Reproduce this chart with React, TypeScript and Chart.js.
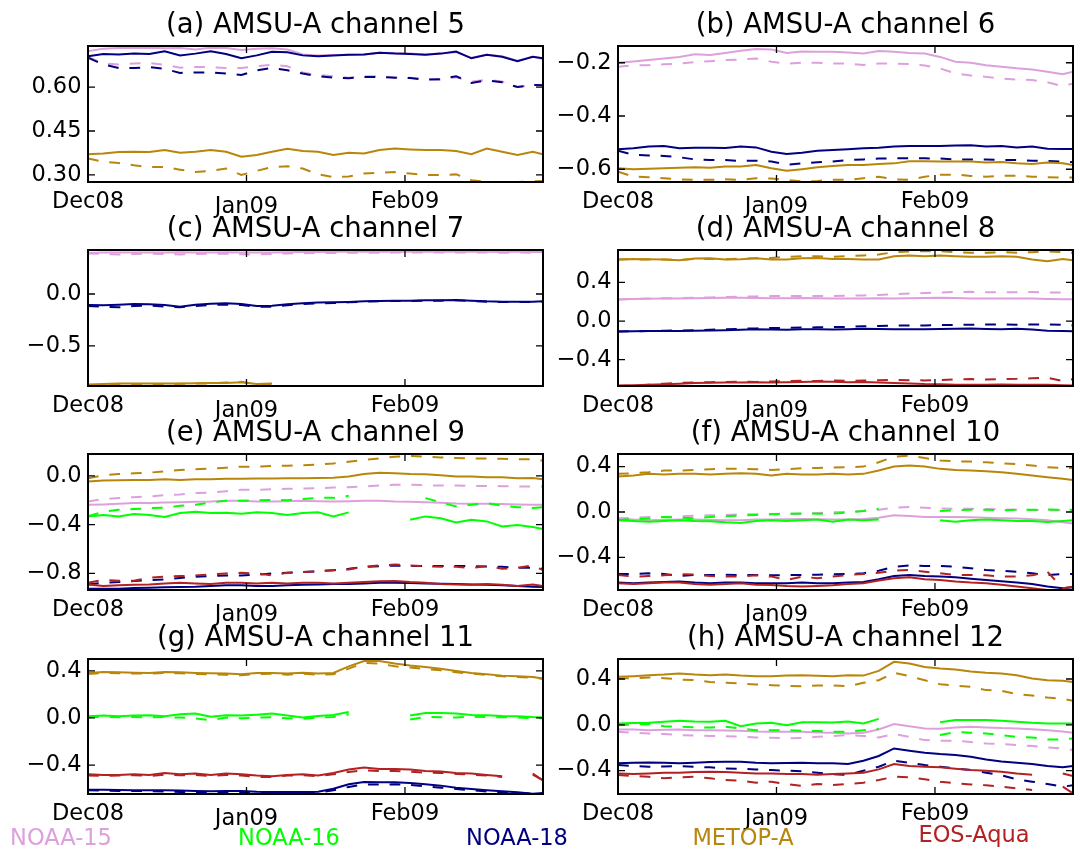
import React, { useEffect, useRef } from 'react';
import { Chart, registerables } from 'chart.js';

Chart.register(...registerables);

const W = 1075;
const H = 852;
const FONT = "'DejaVu Sans', 'Liberation Sans', sans-serif";

// day index from 1 Dec 2008 (0) to 28 Feb 2009 (89)
const DAYS = [0, 3, 6, 9, 12, 15, 18, 21, 24, 27, 30, 33, 36, 39, 42, 45, 48, 51, 54, 57, 60, 63, 66, 69, 72, 75, 78, 81, 84, 87, 89];
const X_TICK_DAYS = [0, 31, 62];
const X_TICK_LABELS = ['Dec08', 'Jan09', 'Feb09'];

const SATELLITES = ['NOAA-15', 'NOAA-16', 'NOAA-18', 'METOP-A', 'EOS-Aqua'];
const SAT_COLORS = ['#DDA0DD', '#00FF00', '#000080', '#B8860B', '#B22222'];

// (a) channel 5
const A_N15 = [0.722, 0.731, 0.733, 0.733, 0.734, 0.732, 0.733, 0.728, 0.734, 0.733, 0.726, 0.731, 0.732, 0.728, 0.711, 0.708, 0.709, 0.71, 0.711, 0.717, 0.716, 0.714, 0.711, 0.714, 0.719, 0.70, 0.71, 0.705, 0.69, 0.703, 0.696];
const A_N15_D = [0.703, 0.68, 0.677, 0.68, 0.682, 0.676, 0.666, 0.668, 0.668, 0.665, 0.665, 0.671, 0.676, 0.671, 0.65, 0.641, 0.637, 0.632, 0.637, 0.637, 0.633, 0.632, 0.627, 0.625, 0.633, 0.619, 0.625, 0.619, 0.60, 0.607, 0.608];
const A_N18 = [0.705, 0.713, 0.711, 0.714, 0.713, 0.722, 0.708, 0.714, 0.722, 0.713, 0.698, 0.708, 0.72, 0.719, 0.708, 0.705, 0.708, 0.71, 0.711, 0.717, 0.714, 0.713, 0.71, 0.714, 0.721, 0.698, 0.71, 0.703, 0.688, 0.703, 0.698];
const A_N18_D = [0.70, 0.677, 0.665, 0.665, 0.668, 0.662, 0.648, 0.65, 0.65, 0.646, 0.641, 0.657, 0.665, 0.657, 0.646, 0.637, 0.632, 0.63, 0.634, 0.634, 0.632, 0.631, 0.625, 0.627, 0.637, 0.614, 0.623, 0.616, 0.60, 0.607, 0.606];
const A_MET = [0.371, 0.373, 0.378, 0.379, 0.378, 0.385, 0.376, 0.379, 0.385, 0.379, 0.362, 0.368, 0.379, 0.389, 0.382, 0.379, 0.368, 0.376, 0.373, 0.385, 0.39, 0.387, 0.385, 0.385, 0.382, 0.371, 0.39, 0.379, 0.368, 0.379, 0.371];
const A_MET_D = [0.356, 0.345, 0.341, 0.333, 0.327, 0.327, 0.318, 0.31, 0.314, 0.322, 0.30, 0.314, 0.327, 0.33, 0.322, 0.302, 0.293, 0.295, 0.305, 0.307, 0.31, 0.305, 0.30, 0.30, 0.302, 0.282, 0.276, 0.273, 0.276, 0.278, 0.279];

// (b) channel 6
const B_N15 = [-0.2, -0.195, -0.19, -0.184, -0.178, -0.168, -0.171, -0.163, -0.155, -0.148, -0.15, -0.163, -0.158, -0.159, -0.159, -0.161, -0.165, -0.156, -0.159, -0.163, -0.165, -0.178, -0.196, -0.2, -0.209, -0.215, -0.221, -0.225, -0.234, -0.243, -0.234];
const B_N15_D = [-0.215, -0.21, -0.209, -0.206, -0.203, -0.198, -0.194, -0.19, -0.188, -0.184, -0.196, -0.203, -0.2, -0.2, -0.203, -0.203, -0.208, -0.203, -0.203, -0.205, -0.21, -0.221, -0.24, -0.248, -0.253, -0.259, -0.263, -0.265, -0.273, -0.288, -0.278];
const B_N18 = [-0.525, -0.521, -0.515, -0.513, -0.521, -0.519, -0.519, -0.52, -0.515, -0.518, -0.534, -0.543, -0.538, -0.531, -0.528, -0.525, -0.521, -0.519, -0.515, -0.513, -0.513, -0.513, -0.511, -0.51, -0.515, -0.513, -0.518, -0.515, -0.523, -0.524, -0.524];
const B_N18_D = [-0.53, -0.546, -0.548, -0.55, -0.555, -0.563, -0.565, -0.565, -0.569, -0.568, -0.571, -0.583, -0.578, -0.574, -0.571, -0.565, -0.563, -0.56, -0.559, -0.559, -0.559, -0.56, -0.563, -0.563, -0.563, -0.565, -0.565, -0.568, -0.569, -0.571, -0.573];
const B_MET = [-0.596, -0.6, -0.598, -0.596, -0.594, -0.593, -0.594, -0.59, -0.59, -0.584, -0.596, -0.606, -0.6, -0.593, -0.588, -0.584, -0.584, -0.58, -0.578, -0.57, -0.57, -0.571, -0.571, -0.571, -0.575, -0.573, -0.578, -0.58, -0.575, -0.578, -0.584];
const B_MET_D = [-0.609, -0.628, -0.63, -0.634, -0.638, -0.64, -0.64, -0.638, -0.64, -0.634, -0.635, -0.64, -0.646, -0.644, -0.64, -0.64, -0.634, -0.628, -0.638, -0.64, -0.628, -0.621, -0.62, -0.625, -0.628, -0.624, -0.625, -0.628, -0.63, -0.631, -0.631];

// (c) channel 7
const C_N15 = [0.395, 0.398, 0.40, 0.40, 0.398, 0.40, 0.402, 0.40, 0.40, 0.402, 0.40, 0.398, 0.40, 0.402, 0.404, 0.404, 0.405, 0.405, 0.406, 0.406, 0.405, 0.406, 0.405, 0.406, 0.406, 0.405, 0.405, 0.404, 0.405, 0.404, 0.404];
const C_N15_D = [0.39, 0.385, 0.38, 0.384, 0.388, 0.383, 0.38, 0.385, 0.388, 0.386, 0.382, 0.38, 0.385, 0.39, 0.392, 0.394, 0.395, 0.396, 0.397, 0.397, 0.398, 0.398, 0.398, 0.398, 0.399, 0.398, 0.398, 0.397, 0.398, 0.397, 0.397];
const C_N18 = [-0.106, -0.109, -0.103, -0.096, -0.099, -0.106, -0.122, -0.103, -0.093, -0.09, -0.096, -0.115, -0.112, -0.099, -0.09, -0.083, -0.08, -0.077, -0.071, -0.067, -0.064, -0.064, -0.061, -0.061, -0.058, -0.064, -0.071, -0.074, -0.074, -0.074, -0.071];
const C_N18_D = [-0.115, -0.122, -0.128, -0.115, -0.112, -0.122, -0.128, -0.115, -0.106, -0.103, -0.106, -0.122, -0.122, -0.109, -0.096, -0.09, -0.087, -0.08, -0.074, -0.071, -0.067, -0.067, -0.064, -0.064, -0.061, -0.067, -0.074, -0.077, -0.077, -0.077, -0.074];
const C_MET = [-0.87, -0.865, -0.86, -0.862, -0.86, -0.862, -0.86, -0.858, -0.856, -0.855, -0.848, -0.865, -0.862, null, null, null, null, null, null, null, null, null, null, null, null, null, null, null, null, null, null];
const C_MET_D = [-0.88, -0.875, -0.87, -0.868, -0.865, -0.866, -0.864, -0.862, -0.86, -0.852, -0.845, -0.87, -0.865, null, null, null, null, null, null, null, null, null, null, null, null, null, null, null, null, null, null];

// (d) channel 8
const D_N15 = [0.224, 0.228, 0.23, 0.232, 0.234, 0.236, 0.238, 0.24, 0.24, 0.238, 0.236, 0.236, 0.238, 0.236, 0.234, 0.232, 0.234, 0.236, 0.234, 0.236, 0.238, 0.24, 0.238, 0.234, 0.232, 0.232, 0.234, 0.232, 0.228, 0.226, 0.226];
const D_N15_D = [0.224, 0.228, 0.232, 0.236, 0.238, 0.24, 0.244, 0.248, 0.252, 0.255, 0.258, 0.26, 0.258, 0.258, 0.26, 0.262, 0.265, 0.27, 0.278, 0.284, 0.29, 0.296, 0.3, 0.302, 0.298, 0.296, 0.298, 0.3, 0.296, 0.294, 0.294];
const D_N18 = [-0.108, -0.106, -0.104, -0.104, -0.102, -0.1, -0.098, -0.095, -0.09, -0.085, -0.088, -0.09, -0.086, -0.084, -0.088, -0.085, -0.08, -0.082, -0.084, -0.086, -0.085, -0.082, -0.08, -0.078, -0.082, -0.085, -0.08, -0.088, -0.1, -0.104, -0.106];
const D_N18_D = [-0.108, -0.106, -0.102, -0.1, -0.098, -0.094, -0.09, -0.086, -0.08, -0.076, -0.072, -0.07, -0.068, -0.065, -0.062, -0.06, -0.055, -0.05, -0.048, -0.045, -0.045, -0.042, -0.04, -0.038, -0.036, -0.036, -0.038, -0.036, -0.034, -0.038, -0.045];
const D_MET = [0.636, 0.643, 0.639, 0.636, 0.629, 0.646, 0.65, 0.636, 0.639, 0.65, 0.636, 0.636, 0.65, 0.653, 0.643, 0.643, 0.636, 0.636, 0.671, 0.678, 0.671, 0.678, 0.671, 0.664, 0.664, 0.671, 0.664, 0.636, 0.618, 0.643, 0.629];
const D_MET_D = [0.636, 0.639, 0.636, 0.636, 0.632, 0.643, 0.643, 0.639, 0.646, 0.65, 0.653, 0.664, 0.671, 0.671, 0.664, 0.671, 0.678, 0.688, 0.713, 0.72, 0.723, 0.723, 0.713, 0.706, 0.706, 0.713, 0.706, 0.713, 0.72, 0.713, 0.706];
const D_AQ = [-0.667, -0.665, -0.66, -0.655, -0.648, -0.64, -0.638, -0.636, -0.635, -0.632, -0.636, -0.632, -0.63, -0.625, -0.628, -0.632, -0.63, -0.636, -0.64, -0.645, -0.652, -0.655, -0.658, -0.66, -0.658, -0.656, -0.658, -0.66, -0.66, -0.664, -0.667];
const D_AQ_D = [-0.672, -0.668, -0.658, -0.648, -0.64, -0.635, -0.632, -0.63, -0.628, -0.63, -0.625, -0.622, -0.618, -0.62, -0.615, -0.618, -0.615, -0.612, -0.61, -0.612, -0.614, -0.61, -0.605, -0.6, -0.604, -0.6, -0.598, -0.592, -0.588, -0.62, -0.6];

// (e) channel 9
const E_N15 = [-0.237, -0.234, -0.229, -0.223, -0.223, -0.218, -0.215, -0.212, -0.21, -0.204, -0.204, -0.21, -0.21, -0.207, -0.204, -0.207, -0.21, -0.207, -0.204, -0.204, -0.21, -0.212, -0.215, -0.22, -0.226, -0.229, -0.229, -0.231, -0.234, -0.237, -0.237];
const E_N15_D = [-0.21, -0.19, -0.182, -0.174, -0.169, -0.158, -0.152, -0.141, -0.136, -0.125, -0.114, -0.114, -0.109, -0.106, -0.103, -0.101, -0.095, -0.093, -0.087, -0.079, -0.073, -0.073, -0.076, -0.079, -0.079, -0.082, -0.082, -0.084, -0.087, -0.087, -0.087];
const E_N16 = [-0.332, -0.321, -0.332, -0.313, -0.321, -0.337, -0.305, -0.294, -0.305, -0.302, -0.31, -0.299, -0.305, -0.321, -0.305, -0.299, -0.332, -0.299, null, null, null, -0.36, -0.332, -0.348, -0.381, -0.359, -0.373, -0.414, -0.403, -0.419, -0.435];
const E_N16_D = [-0.332, -0.294, -0.278, -0.272, -0.264, -0.261, -0.245, -0.237, -0.218, -0.204, -0.204, -0.201, -0.196, -0.199, -0.19, -0.18, -0.18, -0.163, null, null, null, null, -0.182, -0.218, -0.25, -0.237, -0.223, -0.245, -0.256, -0.264, -0.256];
const E_N18 = [-0.925, -0.925, -0.925, -0.92, -0.917, -0.914, -0.912, -0.909, -0.903, -0.898, -0.898, -0.903, -0.903, -0.898, -0.892, -0.89, -0.887, -0.887, -0.882, -0.876, -0.876, -0.879, -0.882, -0.884, -0.887, -0.89, -0.892, -0.898, -0.903, -0.909, -0.912];
const E_N18_D = [-0.89, -0.876, -0.871, -0.863, -0.854, -0.849, -0.838, -0.827, -0.822, -0.816, -0.816, -0.811, -0.8, -0.795, -0.789, -0.784, -0.773, -0.762, -0.746, -0.74, -0.735, -0.74, -0.74, -0.74, -0.74, -0.74, -0.743, -0.746, -0.754, -0.754, -0.762];
const E_MET = [-0.046, -0.038, -0.035, -0.033, -0.033, -0.027, -0.033, -0.027, -0.027, -0.024, -0.024, -0.022, -0.022, -0.019, -0.019, -0.016, -0.014, -0.005, 0.016, 0.027, 0.022, 0.016, 0.014, 0.005, -0.005, -0.005, -0.011, -0.011, -0.019, -0.016, -0.027];
const E_MET_D = [-0.019, 0.005, 0.016, 0.022, 0.027, 0.038, 0.049, 0.054, 0.06, 0.068, 0.076, 0.076, 0.082, 0.084, 0.087, 0.093, 0.103, 0.117, 0.131, 0.144, 0.158, 0.163, 0.158, 0.152, 0.147, 0.144, 0.144, 0.141, 0.136, 0.136, 0.125];
const E_AQ = [-0.89, -0.903, -0.898, -0.892, -0.89, -0.882, -0.876, -0.882, -0.887, -0.876, -0.876, -0.882, -0.876, -0.882, -0.876, -0.876, -0.882, -0.876, -0.871, -0.865, -0.863, -0.871, -0.876, -0.887, -0.89, -0.892, -0.887, -0.892, -0.903, -0.89, -0.903];
const E_AQ_D = [-0.876, -0.854, -0.86, -0.86, -0.835, -0.827, -0.822, -0.816, -0.808, -0.8, -0.795, -0.8, -0.816, -0.795, -0.789, -0.781, -0.773, -0.767, -0.746, -0.735, -0.727, -0.735, -0.74, -0.746, -0.746, -0.754, -0.74, -0.762, -0.754, -0.735, -0.773];

// (f) channel 10
const F_N15 = [-0.058, -0.067, -0.073, -0.07, -0.067, -0.067, -0.07, -0.073, -0.073, -0.067, -0.067, -0.064, -0.061, -0.064, -0.067, -0.067, -0.061, -0.05, -0.029, -0.035, -0.044, -0.044, -0.044, -0.047, -0.05, -0.055, -0.058, -0.064, -0.073, -0.091, -0.102];
const F_N15_D = [-0.058, -0.05, -0.044, -0.044, -0.038, -0.032, -0.029, -0.026, -0.02, -0.02, -0.018, -0.015, -0.015, -0.009, -0.003, 0.0, 0.009, 0.02, 0.038, 0.044, 0.038, 0.032, 0.029, 0.029, 0.026, 0.023, 0.02, 0.018, 0.015, 0.015, 0.015];
const F_N16 = [-0.073, -0.079, -0.085, -0.079, -0.073, -0.079, -0.082, -0.091, -0.096, -0.079, -0.073, -0.079, -0.073, -0.067, -0.085, -0.067, -0.073, -0.067, null, null, null, -0.073, -0.085, -0.073, -0.067, -0.073, -0.079, -0.079, -0.088, -0.079, -0.073];
const F_N16_D = [-0.073, -0.061, -0.058, -0.044, -0.05, -0.055, -0.044, -0.038, -0.032, -0.026, -0.02, -0.015, -0.012, -0.015, -0.015, -0.003, 0.009, 0.029, null, null, null, 0.009, 0.015, 0.02, 0.02, 0.015, 0.02, 0.02, 0.023, 0.02, 0.02];
const F_N18 = [-0.622, -0.628, -0.622, -0.616, -0.613, -0.622, -0.628, -0.622, -0.622, -0.628, -0.628, -0.628, -0.622, -0.628, -0.628, -0.622, -0.616, -0.593, -0.564, -0.555, -0.564, -0.569, -0.575, -0.587, -0.599, -0.61, -0.622, -0.634, -0.657, -0.672, -0.663];
const F_N18_D = [-0.546, -0.546, -0.54, -0.546, -0.564, -0.555, -0.555, -0.552, -0.555, -0.555, -0.558, -0.555, -0.555, -0.552, -0.549, -0.546, -0.54, -0.517, -0.482, -0.47, -0.476, -0.476, -0.482, -0.496, -0.511, -0.517, -0.526, -0.54, -0.555, -0.546, -0.546];
const F_MET = [0.312, 0.321, 0.336, 0.33, 0.336, 0.336, 0.33, 0.336, 0.342, 0.336, 0.321, 0.336, 0.33, 0.33, 0.336, 0.33, 0.336, 0.365, 0.40, 0.409, 0.40, 0.38, 0.371, 0.365, 0.359, 0.35, 0.336, 0.321, 0.307, 0.292, 0.283];
const F_MET_D = [0.336, 0.342, 0.35, 0.365, 0.365, 0.371, 0.377, 0.38, 0.38, 0.377, 0.371, 0.377, 0.385, 0.388, 0.391, 0.394, 0.40, 0.438, 0.488, 0.496, 0.476, 0.453, 0.447, 0.444, 0.438, 0.429, 0.423, 0.409, 0.394, 0.388, 0.388];
const F_AQ = [-0.628, -0.634, -0.628, -0.622, -0.622, -0.634, -0.64, -0.634, -0.628, -0.64, -0.642, -0.651, -0.657, -0.651, -0.645, -0.634, -0.628, -0.604, -0.584, -0.575, -0.593, -0.599, -0.613, -0.622, -0.628, -0.64, -0.657, -0.672, -0.686, -0.692, -0.692];
const F_AQ_D = [-0.555, -0.569, -0.564, -0.558, -0.546, -0.552, -0.564, -0.569, -0.569, -0.558, -0.569, -0.599, -0.569, -0.584, -0.569, -0.555, -0.546, -0.534, -0.517, -0.511, -0.526, -0.54, -0.555, -0.555, -0.558, -0.569, -0.569, -0.558, -0.526, -0.672, -0.657];

// (g) channel 11
const G_N16 = [0.014, 0.02, 0.014, 0.02, 0.023, 0.014, 0.031, 0.037, 0.011, 0.023, 0.02, 0.028, 0.037, 0.02, 0.003, 0.017, 0.025, 0.051, null, null, null, 0.02, 0.042, 0.042, 0.037, 0.025, 0.023, 0.017, 0.014, 0.008, 0.006];
const G_N16_D = [0.006, 0.008, 0.006, 0.008, 0.006, 0.008, 0.003, -0.003, -0.02, 0.003, -0.003, 0.003, 0.006, -0.003, -0.008, 0.003, 0.008, 0.031, null, null, null, -0.014, 0.008, 0.006, 0.003, 0.011, 0.008, 0.006, 0.003, -0.003, -0.003];
const G_N18 = [-0.608, -0.608, -0.611, -0.613, -0.613, -0.613, -0.616, -0.619, -0.622, -0.619, -0.619, -0.625, -0.628, -0.628, -0.628, -0.625, -0.6, -0.563, -0.543, -0.546, -0.546, -0.551, -0.563, -0.574, -0.591, -0.602, -0.613, -0.622, -0.63, -0.642, -0.636];
const G_N18_D = [-0.613, -0.616, -0.619, -0.619, -0.622, -0.625, -0.628, -0.63, -0.63, -0.633, -0.63, -0.636, -0.639, -0.639, -0.639, -0.636, -0.613, -0.585, -0.563, -0.565, -0.563, -0.568, -0.58, -0.591, -0.602, -0.613, -0.625, -0.63, -0.636, -0.642, -0.642];
const G_MET = [0.382, 0.39, 0.387, 0.384, 0.382, 0.39, 0.387, 0.382, 0.379, 0.376, 0.37, 0.382, 0.382, 0.376, 0.384, 0.376, 0.382, 0.438, 0.483, 0.483, 0.461, 0.444, 0.433, 0.418, 0.399, 0.382, 0.37, 0.359, 0.353, 0.348, 0.334];
const G_MET_D = [0.373, 0.382, 0.379, 0.376, 0.376, 0.382, 0.379, 0.373, 0.37, 0.367, 0.362, 0.373, 0.376, 0.367, 0.376, 0.367, 0.37, 0.418, 0.466, 0.461, 0.438, 0.427, 0.416, 0.404, 0.387, 0.376, 0.365, 0.353, 0.348, 0.342, 0.331];
const G_AQ = [-0.478, -0.483, -0.483, -0.478, -0.483, -0.466, -0.478, -0.472, -0.483, -0.472, -0.478, -0.489, -0.495, -0.483, -0.478, -0.489, -0.466, -0.438, -0.421, -0.433, -0.433, -0.438, -0.45, -0.455, -0.466, -0.472, -0.483, -0.495, null, -0.472, -0.529];
const G_AQ_D = [-0.489, -0.492, -0.489, -0.486, -0.492, -0.481, -0.486, -0.483, -0.492, -0.483, -0.489, -0.5, -0.5, -0.489, -0.486, -0.495, -0.478, -0.458, -0.444, -0.45, -0.45, -0.455, -0.464, -0.466, -0.475, -0.481, -0.489, -0.5, null, -0.48, -0.53];

// (h) channel 12
const H_N15 = [-0.041, -0.041, -0.047, -0.044, -0.041, -0.047, -0.047, -0.049, -0.052, -0.058, -0.061, -0.061, -0.061, -0.067, -0.07, -0.076, -0.07, -0.041, 0.006, -0.012, -0.032, -0.035, -0.023, -0.017, -0.023, -0.029, -0.032, -0.038, -0.047, -0.058, -0.07];
const H_N15_D = [-0.061, -0.07, -0.076, -0.081, -0.09, -0.093, -0.099, -0.099, -0.105, -0.111, -0.113, -0.119, -0.116, -0.105, -0.099, -0.09, -0.099, -0.111, -0.081, -0.105, -0.134, -0.14, -0.14, -0.151, -0.163, -0.169, -0.177, -0.186, -0.198, -0.207, -0.221];
const H_N16 = [0.012, 0.015, 0.017, 0.026, 0.035, 0.029, 0.026, 0.035, -0.012, 0.012, 0.017, -0.003, 0.023, 0.023, 0.02, 0.029, 0.012, 0.052, null, null, null, 0.023, 0.041, 0.041, 0.041, 0.035, 0.026, 0.017, 0.012, 0.012, 0.012];
const H_N16_D = [-0.003, 0.003, 0.006, -0.012, -0.017, -0.023, -0.023, -0.017, -0.032, -0.047, -0.047, -0.047, -0.052, -0.055, -0.061, -0.061, -0.047, -0.035, null, null, null, -0.09, -0.064, -0.07, -0.076, -0.09, -0.105, -0.111, -0.128, -0.128, -0.119];
const H_N18 = [-0.337, -0.332, -0.329, -0.332, -0.337, -0.332, -0.326, -0.323, -0.323, -0.332, -0.337, -0.335, -0.332, -0.337, -0.337, -0.343, -0.314, -0.273, -0.207, -0.227, -0.244, -0.256, -0.265, -0.279, -0.303, -0.32, -0.332, -0.343, -0.361, -0.372, -0.361];
const H_N18_D = [-0.352, -0.361, -0.367, -0.364, -0.361, -0.367, -0.372, -0.381, -0.384, -0.39, -0.396, -0.401, -0.407, -0.419, -0.431, -0.439, -0.401, -0.367, -0.314, -0.332, -0.352, -0.367, -0.381, -0.396, -0.419, -0.442, -0.477, -0.497, -0.518, -0.541, -0.529];
const H_MET = [0.419, 0.425, 0.433, 0.439, 0.448, 0.439, 0.433, 0.439, 0.43, 0.425, 0.425, 0.43, 0.433, 0.428, 0.425, 0.433, 0.43, 0.471, 0.55, 0.535, 0.506, 0.492, 0.483, 0.465, 0.454, 0.448, 0.433, 0.404, 0.39, 0.384, 0.375];
const H_MET_D = [0.404, 0.407, 0.413, 0.407, 0.396, 0.39, 0.375, 0.367, 0.361, 0.352, 0.346, 0.34, 0.337, 0.343, 0.343, 0.337, 0.367, 0.39, 0.454, 0.425, 0.39, 0.355, 0.343, 0.332, 0.303, 0.297, 0.268, 0.256, 0.239, 0.227, 0.209];
const H_AQ = [-0.425, -0.431, -0.425, -0.419, -0.419, -0.413, -0.41, -0.413, -0.419, -0.425, -0.425, -0.431, -0.431, -0.436, -0.431, -0.425, -0.419, -0.39, -0.343, -0.361, -0.367, -0.372, -0.384, -0.396, -0.401, -0.41, -0.425, -0.436, null, -0.425, -0.448];
const H_AQ_D = [-0.439, -0.448, -0.454, -0.468, -0.46, -0.454, -0.468, -0.483, -0.489, -0.506, -0.497, -0.518, -0.535, -0.518, -0.527, -0.518, -0.506, -0.483, -0.454, -0.46, -0.477, -0.497, -0.512, -0.521, -0.529, -0.541, -0.556, -0.57, null, -0.541, -0.599];

// y-axis ticks per panel
const A_TICKS = [0.30, 0.45, 0.60];
const B_TICKS = [-0.6, -0.4, -0.2];
const C_TICKS = [-0.5, 0.0];
const D_TICKS = [-0.4, 0.0, 0.4];
const E_TICKS = [-0.8, -0.4, 0.0];
const F_TICKS = [-0.4, 0.0, 0.4];
const G_TICKS = [-0.4, 0.0, 0.4];
const H_TICKS = [-0.4, 0.0, 0.4];

type Series = [number, boolean, (number | null)[]];
interface PanelCfg {
  title: string; col: number; row: number;
  yMin: number; yMax: number; yTicks: number[]; dec: number;
  series: Series[];
}

const PANELS: PanelCfg[] = [
  { title: '(a) AMSU-A channel 5', col: 0, row: 0, yMin: 0.276, yMax: 0.74, yTicks: A_TICKS, dec: 2,
    series: [[0, false, A_N15], [0, true, A_N15_D], [2, false, A_N18], [2, true, A_N18_D], [3, false, A_MET], [3, true, A_MET_D]] },
  { title: '(b) AMSU-A channel 6', col: 1, row: 0, yMin: -0.648, yMax: -0.137, yTicks: B_TICKS, dec: 1,
    series: [[0, false, B_N15], [0, true, B_N15_D], [2, false, B_N18], [2, true, B_N18_D], [3, false, B_MET], [3, true, B_MET_D]] },
  { title: '(c) AMSU-A channel 7', col: 0, row: 1, yMin: -0.885, yMax: 0.423, yTicks: C_TICKS, dec: 1,
    series: [[0, false, C_N15], [0, true, C_N15_D], [2, false, C_N18], [2, true, C_N18_D], [3, false, C_MET], [3, true, C_MET_D]] },
  { title: '(d) AMSU-A channel 8', col: 1, row: 1, yMin: -0.672, yMax: 0.735, yTicks: D_TICKS, dec: 1,
    series: [[0, false, D_N15], [0, true, D_N15_D], [2, false, D_N18], [2, true, D_N18_D], [3, false, D_MET], [3, true, D_MET_D], [4, false, D_AQ], [4, true, D_AQ_D]] },
  { title: '(e) AMSU-A channel 9', col: 0, row: 2, yMin: -0.936, yMax: 0.18, yTicks: E_TICKS, dec: 1,
    series: [[0, false, E_N15], [0, true, E_N15_D], [1, false, E_N16], [1, true, E_N16_D], [2, false, E_N18], [2, true, E_N18_D], [3, false, E_MET], [3, true, E_MET_D], [4, false, E_AQ], [4, true, E_AQ_D]] },
  { title: '(f) AMSU-A channel 10', col: 1, row: 2, yMin: -0.687, yMax: 0.511, yTicks: F_TICKS, dec: 1,
    series: [[0, false, F_N15], [0, true, F_N15_D], [1, false, F_N16], [1, true, F_N16_D], [2, false, F_N18], [2, true, F_N18_D], [3, false, F_MET], [3, true, F_MET_D], [4, false, F_AQ], [4, true, F_AQ_D]] },
  { title: '(g) AMSU-A channel 11', col: 0, row: 3, yMin: -0.645, yMax: 0.50, yTicks: G_TICKS, dec: 1,
    series: [[1, false, G_N16], [1, true, G_N16_D], [2, false, G_N18], [2, true, G_N18_D], [3, false, G_MET], [3, true, G_MET_D], [4, false, G_AQ], [4, true, G_AQ_D]] },
  { title: '(h) AMSU-A channel 12', col: 1, row: 3, yMin: -0.605, yMax: 0.575, yTicks: H_TICKS, dec: 1,
    series: [[0, false, H_N15], [0, true, H_N15_D], [1, false, H_N16], [1, true, H_N16_D], [2, false, H_N18], [2, true, H_N18_D], [3, false, H_MET], [3, true, H_MET_D], [4, false, H_AQ], [4, true, H_AQ_D]] },
];

// layout of plot boxes (pixels)
const COL_X = [{ left: 88, right: 543 }, { left: 618, right: 1073 }];
const ROW_Y = [{ top: 46, bottom: 182 }, { top: 250, bottom: 386 }, { top: 454, bottom: 590 }, { top: 659, bottom: 794 }];

const TICK_LEN = 7;
const X_LABEL_DROP = [25.5, 30.5, 25.5];
const LEGEND_X = [61, 289, 517, 743, 974];
const LEGEND_Y = [845, 845, 845, 845, 842];

const fmtTick = (v: number, dec: number) => (v < -1e-9 ? '\u2212' : '') + Math.abs(v).toFixed(dec);

const decoPlugin = {
  id: 'deco',
  afterDatasetsDraw(chart: any, _args: any, opts: any) {
    const { ctx, chartArea: a } = chart;
    const xs = chart.scales.x;
    const ys = chart.scales.y;
    ctx.save();
    ctx.strokeStyle = '#000';
    ctx.lineWidth = 1.3;
    ctx.beginPath();
    for (const v of opts.yTicks) {
      const py = ys.getPixelForValue(v);
      ctx.moveTo(a.left, py); ctx.lineTo(a.left + TICK_LEN, py);
      ctx.moveTo(a.right, py); ctx.lineTo(a.right - TICK_LEN, py);
    }
    for (const d of X_TICK_DAYS) {
      const px = xs.getPixelForValue(d);
      ctx.moveTo(px, a.top); ctx.lineTo(px, a.top + TICK_LEN);
      ctx.moveTo(px, a.bottom); ctx.lineTo(px, a.bottom - TICK_LEN);
    }
    ctx.stroke();
    ctx.lineWidth = 2;
    ctx.strokeRect(a.left, a.top, a.right - a.left, a.bottom - a.top);

    ctx.fillStyle = '#000';
    ctx.font = `22.5px ${FONT}`;
    ctx.textAlign = 'right';
    ctx.textBaseline = 'middle';
    for (const v of opts.yTicks) ctx.fillText(fmtTick(v, opts.dec), a.left - 6.5, ys.getPixelForValue(v));
    ctx.textAlign = 'center';
    ctx.textBaseline = 'alphabetic';
    X_TICK_DAYS.forEach((d, i) => ctx.fillText(X_TICK_LABELS[i], xs.getPixelForValue(d), a.bottom + X_LABEL_DROP[i]));
    ctx.font = `27.5px ${FONT}`;
    ctx.fillText(opts.title, (a.left + a.right) / 2, a.top - 13.5);

    if (opts.legend) {
      ctx.font = `22.5px ${FONT}`;
      SATELLITES.forEach((s, i) => {
        ctx.fillStyle = SAT_COLORS[i];
        ctx.fillText(s, LEGEND_X[i], LEGEND_Y[i]);
      });
    }
    ctx.restore();
  },
};

function Panel({ cfg, legend }: { cfg: PanelCfg; legend: boolean }) {
  const ref = useRef<HTMLCanvasElement>(null);
  useEffect(() => {
    const cx = COL_X[cfg.col];
    const ry = ROW_Y[cfg.row];
    const n = cfg.series.length;
    const chart = new Chart(ref.current as HTMLCanvasElement, {
      type: 'line',
      data: {
        datasets: cfg.series.map(([sat, dashed, vals], i) => ({
          label: SATELLITES[sat] + (dashed ? ' (dashed)' : ''),
          data: DAYS.map((d, k) => ({ x: d, y: vals[k] })),
          borderColor: SAT_COLORS[sat],
          backgroundColor: SAT_COLORS[sat],
          borderWidth: 2,
          borderDash: dashed ? [10.8, 10.8] : [],
          pointRadius: 0,
          tension: 0,
          spanGaps: false,
          fill: false,
          order: n - i,
        })) as any,
      },
      options: {
        animation: false,
        responsive: false,
        devicePixelRatio: 1,
        events: [],
        layout: { padding: { left: cx.left, right: W - cx.right, top: ry.top, bottom: H - ry.bottom } },
        scales: {
          x: { type: 'linear', min: 0, max: 89, display: false },
          y: { type: 'linear', min: cfg.yMin, max: cfg.yMax, display: false },
        },
        plugins: {
          legend: { display: false },
          tooltip: { enabled: false },
          title: { display: false },
          deco: { yTicks: cfg.yTicks, dec: cfg.dec, title: cfg.title, legend },
        } as any,
      },
      plugins: [decoPlugin],
    });
    return () => chart.destroy();
  }, [cfg, legend]);
  return <canvas ref={ref} width={W} height={H} style={{ position: 'absolute', left: 0, top: 0, width: W, height: H }} />;
}

export default function App() {
  return (
    <div style={{ position: 'absolute', left: 0, top: 0, width: W, height: H, background: '#fff', overflow: 'hidden' }}>
      {PANELS.map((p, i) => (
        <Panel key={i} cfg={p} legend={i === PANELS.length - 1} />
      ))}
    </div>
  );
}
